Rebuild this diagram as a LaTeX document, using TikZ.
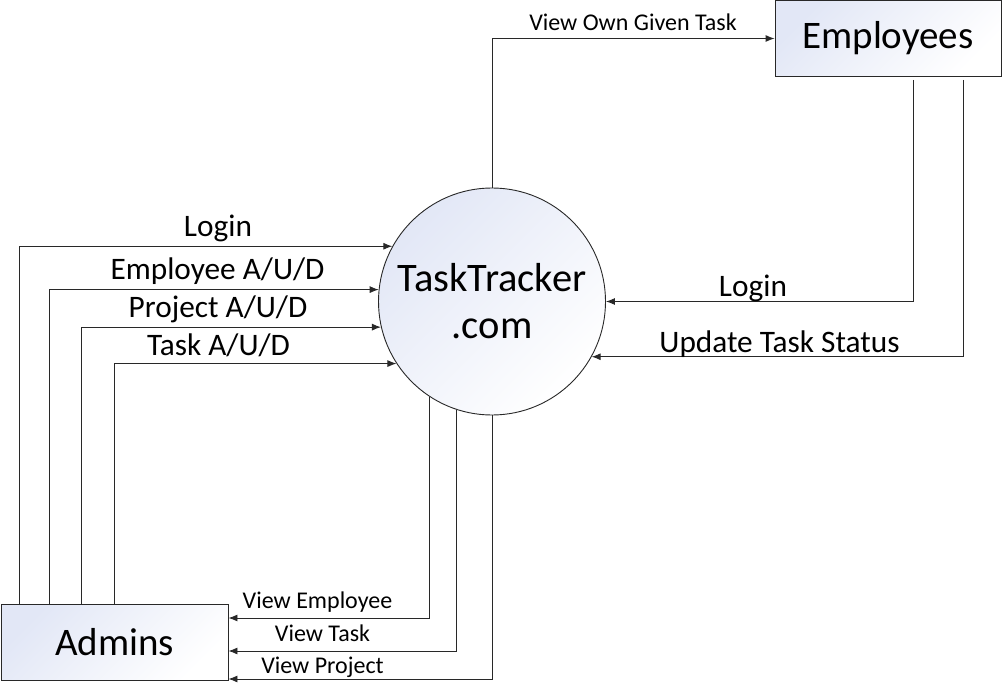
\documentclass[tikz,border=0pt]{standalone}
\usepackage{fontspec}
\setmainfont{Carlito}
\usetikzlibrary{arrows.meta}
\definecolor{gfill}{RGB}{226,231,246}
\definecolor{gmid}{RGB}{244,246,252}
\definecolor{lin}{RGB}{40,40,40}
\begin{document}
\begin{tikzpicture}[x=1pt,y=-1pt,
  flow/.style={draw=lin, line width=0.9pt, -{Latex[length=9pt,width=7pt]}},
  shadefill/.style={shading=axis, top color=gfill, middle color=gmid, bottom color=white, shading angle=45},
  ent/.style={draw=lin, line width=0.9pt, shadefill, minimum width=226pt, minimum height=76pt, inner sep=0pt, font=\fontsize{39}{47}\selectfont},
  proc/.style={circle, draw=lin, line width=0.9pt, shadefill, minimum size=227pt, inner sep=0pt, align=center, font=\fontsize{40.5}{47}\selectfont},
  midlbl/.style={anchor=base, inner sep=0pt, font=\fontsize{31.3}{37}\selectfont},
  smalllbl/.style={anchor=base, inner sep=0pt, font=\fontsize{24}{29}\selectfont}]
\useasboundingbox (0,0) rectangle (1003,692);

\node[proc] (tt) at (492,301.5) {TaskTracker\\.com};
\node[ent] (emp) at (888,38.5) {Employees};
\node[ent, minimum width=227pt] (adm) at (114.5,642) {Admins};

% Employees side
\draw[flow] (tt.90) |- (emp.west);
\draw[flow, shorten <=3pt] ([xshift=25pt]emp.south) |- (tt.0);
\draw[flow, shorten <=3pt] ([xshift=75pt]emp.south) |- (tt.-29.3);

% Admins to TaskTracker
\draw[flow] ([xshift=19pt]adm.north west) |- (tt.151.3);
\draw[flow] ([xshift=49pt]adm.north west) |- (tt.174.2);
\draw[flow] ([xshift=81pt]adm.north west) |- (tt.193);
\draw[flow] ([xshift=114pt]adm.north west) |- (tt.213.4);

% TaskTracker to Admins
\draw[flow] (tt.237.5) |- ([yshift=24pt]adm.east);
\draw[flow] (tt.252.6) |- ([yshift=-9pt]adm.east);
\draw[flow] (tt.270) |- ([yshift=-37pt]adm.east);

% labels
\node[smalllbl] (l1) at (633,31) {View Own Given Task};
\node[midlbl] (l2) at (753,297) {Login};
\node[midlbl] (l3) at (779.5,352) {Update Task Status};
\node[midlbl] (l4) at (218,237) {Login};
\node[midlbl] (l5) at (217.5,280) {Employee A/U/D};
\node[midlbl] (l6) at (218,318) {Project A/U/D};
\node[midlbl] (l7) at (218.5,355) {Task A/U/D};
\node[smalllbl] (l8) at (317.5,608) {View Employee};
\node[smalllbl] (l9) at (322.5,641) {View Task};
\node[smalllbl] (l10) at (322.5,673) {View Project};
\end{tikzpicture}
\end{document}
